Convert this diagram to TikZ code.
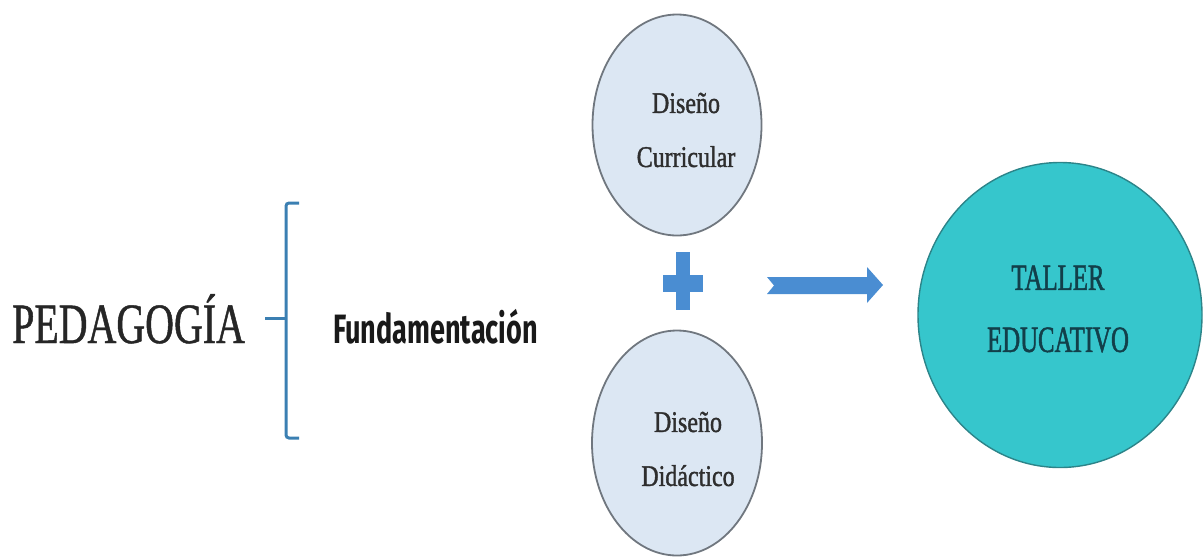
\documentclass[tikz,border=0pt]{standalone}
\usepackage{fontspec}
\setmainfont{Liberation Serif}
\newfontfamily\condserif[FakeStretch=0.70,FakeBold=0.8]{Liberation Serif}
\newfontfamily\circserif[FakeStretch=0.80,FakeBold=1.2]{Liberation Serif}
\newfontfamily\tallerfont[FakeStretch=0.67,FakeBold=1.3]{Liberation Serif}
\newfontfamily\handfont[FakeStretch=0.66]{Fira Sans Bold}
\usetikzlibrary{shapes.geometric}
\definecolor{circfill}{HTML}{DCE7F3}
\definecolor{circline}{HTML}{70777F}
\definecolor{tealfill}{HTML}{36C6CC}
\definecolor{tealline}{HTML}{2C8489}
\definecolor{tealtext}{HTML}{123F4A}
\definecolor{brackblue}{HTML}{3B7FB2}
\definecolor{symblue}{HTML}{4A8DD2}
\definecolor{greytext}{HTML}{2E2E2E}
\tikzset{
  design/.style={ellipse, draw=circline, line width=1.8pt, fill=circfill, inner sep=0pt},
  circtext/.style={text=greytext, font=\circserif\fontsize{30}{54}\selectfont, align=center, inner sep=0pt},
  taller/.style={ellipse, draw=tealline, line width=1.4pt, fill=tealfill, inner sep=0pt},
  tallertext/.style={text=tealtext, font=\tallerfont\fontsize{37}{62}\selectfont, align=center, inner sep=0pt},
  brack/.style={draw=brackblue, line width=3pt, rounded corners=3pt},
  symbol/.style={fill=symblue, draw=none}
}
\begin{document}
\begin{tikzpicture}[x=1pt,y=-1pt]
\useasboundingbox (0,0) rectangle (1204,558);
% left text
\node[anchor=base west, inner sep=0pt, font=\condserif\fontsize{57}{60}\selectfont, text=black!85] (ped) at (12,343) {PEDAGOGÍA};
% bracket
\coordinate (bt) at (299,203);
\coordinate (bb) at (299,438);
\coordinate (bm) at (286,318);
\coordinate (tk) at (265,318);
\draw[brack] (bt) -- (286,203) -- (286,438) -- (bb);
\draw[draw=brackblue, line width=3pt] (tk) -- (bm);
\node[anchor=base west, inner sep=0pt, font=\handfont\fontsize{41}{44}\selectfont, text=black!90] (fund) at (333,343) {Fundamentación};
% design ellipses
\node[design, minimum width=169pt, minimum height=221pt] (dc) at (677,125) {};
\node[circtext] (dctext) at (686,130) {Diseño\\Curricular};
\node[design, minimum width=170pt, minimum height=225pt] (dd) at (677,443) {};
\node[circtext] (ddtext) at (688,449) {Diseño\\Didáctico};
% plus sign
\fill[symbol] (676,252) rectangle (690,310);
\fill[symbol] (663,275) rectangle (703,292);
% arrow
\fill[symbol] (767,277) -- (867,277) -- (867,267) -- (883,285) -- (867,303) -- (867,294) -- (767,294) -- (774,285.5) -- cycle;
% taller educativo
\node[taller, minimum width=284pt, minimum height=305pt] (te) at (1060,315) {};
\node[tallertext] (tetext) at (1058,309) {TALLER\\EDUCATIVO};
\end{tikzpicture}
\end{document}
